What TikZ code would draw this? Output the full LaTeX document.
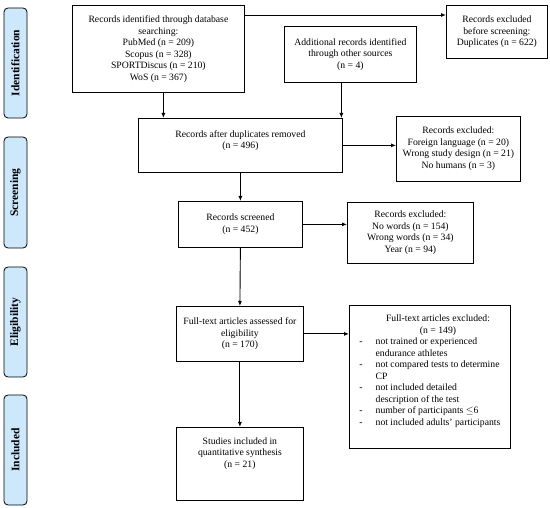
\documentclass[tikz,border=0pt]{standalone}
\usepackage{fontspec}
\setmainfont{Liberation Serif}
\usetikzlibrary{arrows.meta}

\definecolor{phasefill}{RGB}{205,231,251}

\begin{document}
\begin{tikzpicture}[
    x=1pt, y=-1pt,
    box/.style={draw, line width=0.8pt, align=center, inner sep=2pt,
        font=\fontsize{9.7}{11.5}\selectfont, anchor=north west},
    phase/.style={draw, rounded corners=4pt, fill=phasefill, line width=0.8pt,
        rotate=90, minimum height=23pt, font=\fontsize{11.5}{13}\selectfont\bfseries},
    arr/.style={-{Latex[length=5pt,width=4pt]}, line width=0.9pt}
]

    \useasboundingbox (0,0) rectangle (550,508);

    % Phases
    \foreach \nm/\yt/\yb [count=\i] in {Identification/8/118, Screening/137/248,
        Eligibility/267/377, Included/395/505}
        \node[phase, minimum width={(\yb-\yt)*1pt}] (P\i) at (15.5,{(\yt+\yb)/2}) {\nm};

    % Identification
    \node[box, minimum width=172, minimum height=87] (db) at (72,5)
        {Records identified through database\\searching:\\PubMed (n = 209)\\Scopus (n = 328)\\SPORTDiscus (n = 210)\\WoS (n = 367)};
    \node[box, minimum width=132, minimum height=56] (other) at (284,26)
        {Additional records identified\\through other sources\\(n = 4)};
    \node[box, minimum width=101, minimum height=53] (dupex) at (446,5)
        {Records excluded\\before screening:\\Duplicates (n = 622)};

    % Screening
    \node[box, minimum width=204, minimum height=54] (dup) at (138,118)
        {Records after duplicates removed\\(n = 496)\\~};
    \node[box, minimum width=124, minimum height=65] (exA) at (396,116)
        {Records excluded:\\Foreign language (n = 20)\\Wrong study design (n = 21)\\No humans (n = 3)};
    \node[box, minimum width=124, minimum height=46] (scr) at (178,201)
        {Records screened\\(n = 452)};
    \node[box, minimum width=126, minimum height=61] (exB) at (347,202)
        {Records excluded:\\No words (n = 154)\\Wrong words (n = 34)\\Year (n = 94)};

    % Eligibility
    \node[box, minimum width=127, minimum height=55] (full) at (176,306)
        {Full-text articles assessed for\\eligibility\\(n = 170)};
    \node[box, minimum width=161, minimum height=143, align=left] (exC) at (349,305)
        {\begin{tabular}{@{}c@{\hspace{13pt}}l@{}}
            & \multicolumn{1}{c}{Full-text articles excluded:}\\
            & \multicolumn{1}{c}{(n = 149)}\\
            - & not trained or experienced\\
              & endurance athletes\\
            - & not compared tests to determine\\
              & CP\\
            - & not included detailed\\
              & description of the test\\
            - & number of participants $\leq$6\\
            - & not included adults' participants\\
              & \\
        \end{tabular}};

    % Included
    \node[box, minimum width=127, minimum height=73] (incl) at (176,427)
        {Studies included in\\quantitative synthesis\\(n = 21)\\~\\~};

    % Connections
    \draw[arr] ([yshift=-10pt]db.north east) -- ([yshift=-10pt]dupex.north west);
    \draw[arr] ([xshift=5pt]db.south) -- ([xshift=5pt]db.south |- dup.north);
    \draw[arr] ([xshift=-9pt]other.south) -- ([xshift=-9pt]other.south |- dup.north);
    \draw[arr] (dup.east) -- (dup.east -| exA.west);
    \draw[arr] (dup.south) -- (scr.north);
    \draw[arr] (scr.east) -- (scr.east -| exB.west);
    \draw[arr] (scr.south) -- (full.north);
    \draw[arr] (full.east) -- (full.east -| exC.west);
    \draw[arr] (full.south) -- (incl.north);

\end{tikzpicture}
\end{document}
